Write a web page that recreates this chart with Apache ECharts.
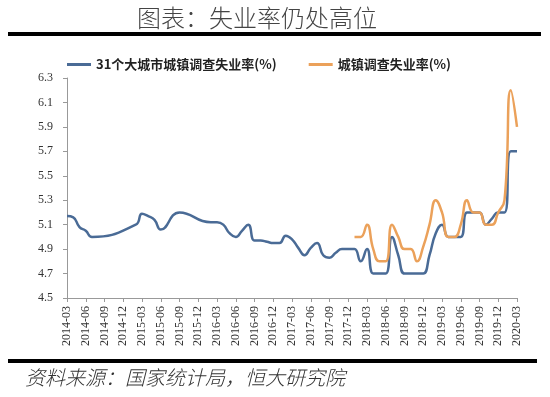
<!DOCTYPE html>
<html>
<head>
<meta charset="utf-8">
<script src="https://cdn.jsdelivr.net/npm/echarts@6/dist/echarts.min.js"></script>
<style>html,body{margin:0;padding:0;background:#fff;}#c{width:550px;height:397px;}</style>
</head>
<body>
<div id="c"></div>
<script>
const months = [];
for (let y = 2014; y <= 2020; y++) {
  for (let m = 1; m <= 12; m++) {
    if ((y === 2014 && m < 3) || (y === 2020 && m > 3)) continue;
    months.push(y + '-' + String(m).padStart(2, '0'));
  }
}
const cityRate = [
  5.17, 5.16, 5.08, 5.05, 5.00, null, null, null, null, null,
  null, 5.10, 5.19, 5.17, 5.14, 5.06, null, null, 5.20, null,
  null, null, null, 5.12, 5.12, 5.10, 5.03, 5.00, 5.05, 5.10,
  4.97, 4.97, 4.96, 4.95, 4.95, 5.01, 4.98, 4.91, 4.85, 4.91,
  4.95, 4.85, 4.83, 4.87, 4.90, 4.90, 4.90, 4.80, 4.90, 4.70,
  4.70, 4.70, 5.00, 4.85, 4.70, 4.70, 4.70, 4.70, 4.85, 5.03,
  5.10, 5.00, 5.00, 5.00, 5.20, 5.20, 5.20, 5.10, 5.15, 5.20,
  5.20, 5.70, 5.70
];
const urbanRate = [
  null, null, null, null, null, null, null, null, null, null,
  null, null, null, null, null, null, null, null, null, null,
  null, null, null, null, null, null, null, null, null, null,
  null, null, null, null, null, null, null, null, null, null,
  null, null, null, null, null, null, 5.0, 5.0, 5.1, 4.9,
  4.8, 4.8, 5.1, 5.0, 4.9, 4.9, 4.8, 4.92, 5.1, 5.3,
  5.2, 5.0, 5.0, 5.1, 5.3, 5.2, 5.2, 5.1, 5.1, 5.2,
  5.3, 6.2, 5.9
];
const yTicks = [4.5, 4.7, 4.9, 5.1, 5.3, 5.5, 5.7, 5.9, 6.1, 6.3];
const seriesNames = ['31个大城市城镇调查失业率(%)', '城镇调查失业率(%)'];
const titleText = '图表：失业率仍处高位';
const sourceText = '资料来源：国家统计局，恒大研究院';

const chart = echarts.init(document.getElementById('c'), null, {renderer: 'canvas'});
const serif = '"Liberation Serif", "Times New Roman", serif';
chart.setOption({
  animation: false,
  backgroundColor: '#fff',
  color: ['#4a6b96', '#eba15a'],
  graphic: [
    {type: 'text', left: 137, top: 6, style: {text: titleText, fill: '#444', font: '300 24px "Noto Sans CJK SC"'}},
    {type: 'rect', shape: {x: 8, y: 32, width: 533, height: 4}, style: {fill: '#000'}},
    {type: 'rect', shape: {x: 8, y: 359, width: 529, height: 4}, style: {fill: '#000'}},
    {type: 'text', left: 25, top: 367, style: {text: sourceText, fill: '#333', font: 'italic 300 20px "Noto Sans CJK SC"'}}
  ],
  legend: {
    left: 62, top: 53,
    itemWidth: 24, itemHeight: 3, itemGap: 32,
    icon: 'rect',
    textStyle: {fontFamily: '"Noto Sans CJK SC"', fontWeight: 'bold', fontSize: 13, color: '#222'},
    data: seriesNames
  },
  grid: {left: 67, right: 33, top: 78, bottom: 99, containLabel: false},
  xAxis: {
    type: 'category',
    data: months,
    boundaryGap: false,
    axisLine: {lineStyle: {color: '#999', width: 1}},
    axisTick: {interval: 2, length: 4, lineStyle: {color: '#999'}},
    axisLabel: {interval: 2, rotate: 90, margin: 8, fontFamily: serif, fontSize: 12, color: '#333'}
  },
  yAxis: {
    type: 'value',
    min: 4.5, max: 6.3,
    splitLine: {show: false},
    axisLine: {show: true, lineStyle: {color: '#999'}},
    axisTick: {show: true, length: 4, lineStyle: {color: '#999'}, customValues: yTicks},
    axisLabel: {customValues: yTicks, margin: 14, fontFamily: serif, fontSize: 12, color: '#333',
      formatter: v => Number(v).toFixed(1)}
  },
  series: [
    {name: seriesNames[0], type: 'line', data: cityRate, smooth: 0.5, connectNulls: true,
     showSymbol: false, symbol: 'none', lineStyle: {width: 2.5}},
    {name: seriesNames[1], type: 'line', data: urbanRate, smooth: 0.5, connectNulls: true,
     showSymbol: false, symbol: 'none', lineStyle: {width: 2.5}}
  ]
});
</script>
</body>
</html>
